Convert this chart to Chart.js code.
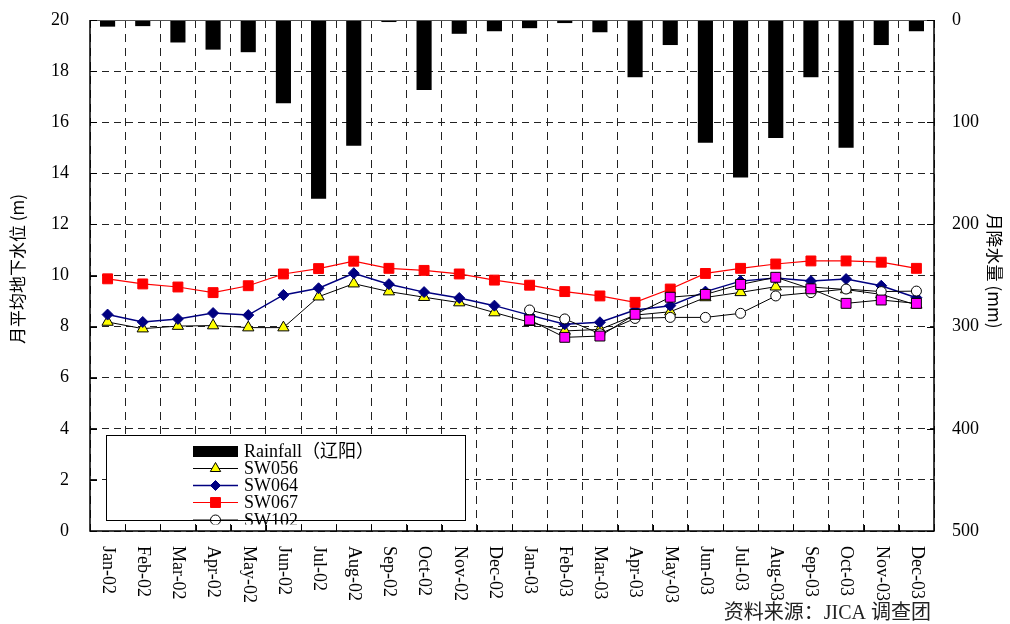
<!DOCTYPE html>
<html>
<head>
<meta charset="utf-8">
<script src="https://cdn.jsdelivr.net/npm/chart.js@4.4.0/dist/chart.umd.min.js"></script>
<style>
  html, body { margin: 0; padding: 0; background: #fff; }
  #wrap { width: 1010px; height: 624px; }
</style>
</head>
<body>
<div id="wrap"><canvas id="c" width="1010" height="624"></canvas></div>
<script>
// Months (category axis)
const months = ['Jan-02','Feb-02','Mar-02','Apr-02','May-02','Jun-02','Jul-02','Aug-02','Sep-02','Oct-02','Nov-02','Dec-02',
                'Jan-03','Feb-03','Mar-03','Apr-03','May-03','Jun-03','Jul-03','Aug-03','Sep-03','Oct-03','Nov-03','Dec-03'];

// Monthly rainfall at Liaoyang (mm), hanging from the top on the reversed right axis
const rainfall = [6.5, 6, 22, 29, 31.5, 81.5, 175, 123, 2, 68.5, 13.5, 11,
                  8, 3, 12, 56, 24.5, 120, 154, 115.5, 56, 125, 24.5, 11];

// Monthly mean groundwater level per well (m)
const sw056 = [8.18, 7.92, 8.02, 8.04, 7.96, 7.96, 9.17, 9.68, 9.37, 9.15, 8.94, 8.55,
               8.17, 7.83, 7.89, 8.45, 8.58, 9.14, 9.34, 9.56, 9.55, 9.45, 9.26, 8.85];
const sw064 = [8.47, 8.18, 8.30, 8.53, 8.45, 9.24, 9.50, 10.09, 9.66, 9.35, 9.12, 8.82,
               8.45, 8.09, 8.17, 8.65, 8.82, 9.37, 9.78, 9.90, 9.78, 9.86, 9.60, 9.13];
const sw067 = [9.87, 9.67, 9.55, 9.33, 9.60, 10.06, 10.27, 10.56, 10.28, 10.20, 10.06, 9.82,
               9.62, 9.37, 9.20, 8.95, 9.47, 10.08, 10.28, 10.45, 10.57, 10.57, 10.52, 10.28];
const sw102 = [null, null, null, null, null, null, null, null, null, null, null, null,
               8.65, 8.30, 7.72, 8.32, 8.36, 8.36, 8.52, 9.20, 9.33, 9.47, 9.37, 9.39];
const swMagenta = [null, null, null, null, null, null, null, null, null, null, null, null,
               8.26, 7.58, 7.63, 8.48, 9.15, 9.26, 9.65, 9.93, 9.48, 8.91, 9.04, 8.91];

// Axis tick values
const levelTicks = [0, 2, 4, 6, 8, 10, 12, 14, 16, 18, 20];
const rainTicks = [0, 100, 200, 300, 400, 500];

// Axis titles and legend text
const leftTitle = '月平均地下水位 (m)';
const rightTitle = '月降水量 (mm)';
const sourceNote = '资料来源：JICA 调查团';
const legendItems = [
  { text: 'Rainfall（辽阳）', kind: 'bar' },
  { text: 'SW056', kind: 'line', line: '#000', lw: 1, style: 'triangle', fill: '#ffff00', stroke: '#000', r: 6 },
  { text: 'SW064', kind: 'line', line: '#000080', lw: 1.5, style: 'rectRot', fill: '#000080', stroke: '#000080', r: 5 },
  { text: 'SW067', kind: 'line', line: '#ff0000', lw: 1.2, style: 'rect', fill: '#ff0000', stroke: '#ff0000', r: 7 },
  { text: 'SW102', kind: 'line', line: '#000', lw: 1, style: 'circle', fill: '#ffffff', stroke: '#000', r: 5 }
];

const SERIF = "'Liberation Serif', 'Noto Sans CJK SC', serif";
const CJK = "'Noto Sans CJK SC', sans-serif";
Chart.defaults.font.family = SERIF;

// Frame, inward tick marks, rotated month labels, axis titles, legend box and source note
const decorations = {
  id: 'decorations',
  afterDatasetsDraw(chart) {
    const ctx = chart.ctx;
    const a = chart.chartArea;
    const x = chart.scales.x, yl = chart.scales.y, yr = chart.scales.y1;
    ctx.save();

    // legend box
    const bx = 106, by = 435, bw = 359, bh = 85;
    ctx.fillStyle = '#fff';
    ctx.fillRect(bx, by, bw, bh);
    ctx.save();
    ctx.beginPath();
    ctx.rect(bx - 2, by, bw + 4, bh + 4.5);
    ctx.clip();
    const rowY = [451.5, 468.5, 485.5, 502.5, 520];
    legendItems.forEach((it, i) => {
      const cy = rowY[i];
      if (it.kind === 'bar') {
        ctx.fillStyle = '#000';
        ctx.fillRect(193, cy - 5.5, 45, 11);
      } else {
        ctx.strokeStyle = it.line;
        ctx.lineWidth = it.lw;
        ctx.beginPath();
        ctx.moveTo(193, cy);
        ctx.lineTo(238, cy);
        ctx.stroke();
        ctx.fillStyle = it.fill;
        ctx.strokeStyle = it.stroke;
        ctx.lineWidth = 1;
        Chart.helpers.drawPoint(ctx, { pointStyle: it.style, radius: it.r, rotation: 0, borderWidth: 1 }, 215.5, cy);
      }
      ctx.fillStyle = '#000';
      ctx.font = '18px ' + SERIF;
      ctx.textAlign = 'left';
      ctx.textBaseline = 'middle';
      ctx.fillText(it.text, 244, cy + 1);
    });
    ctx.restore();
    ctx.strokeStyle = '#000';
    ctx.lineWidth = 1;
    ctx.strokeRect(bx + 0.5, by + 0.5, bw, bh);

    // chart frame
    ctx.strokeStyle = '#000';
    ctx.lineWidth = 1.5;
    ctx.beginPath();
    ctx.moveTo(a.left, a.top);
    ctx.lineTo(a.left, a.bottom);
    ctx.lineTo(a.right, a.bottom);
    ctx.lineTo(a.right, a.top);
    ctx.stroke();
    ctx.strokeStyle = '#555';
    ctx.lineWidth = 1;
    ctx.beginPath();
    ctx.moveTo(a.left, a.top + 0.5);
    ctx.lineTo(a.right, a.top + 0.5);
    ctx.stroke();

    // inward tick marks
    ctx.strokeStyle = '#000';
    ctx.lineWidth = 1;
    ctx.beginPath();
    levelTicks.forEach(v => {
      const py = Math.round(yl.getPixelForValue(v)) + 0.5;
      ctx.moveTo(a.left, py); ctx.lineTo(a.left + 7, py);
    });
    rainTicks.forEach(v => {
      const py = Math.round(yr.getPixelForValue(v)) + 0.5;
      ctx.moveTo(a.right, py); ctx.lineTo(a.right - 7, py);
    });
    const step = (a.right - a.left) / months.length;
    for (let i = 1; i < months.length; i++) {
      const px = Math.round(a.left + i * step) + 0.5;
      ctx.moveTo(px, a.bottom); ctx.lineTo(px, a.bottom - 6);
    }
    ctx.stroke();

    // month labels, reading top to bottom
    ctx.fillStyle = '#000';
    ctx.font = '18px ' + SERIF;
    ctx.textAlign = 'left';
    ctx.textBaseline = 'middle';
    months.forEach((m, i) => {
      const px = x.getPixelForValue(i);
      ctx.save();
      ctx.translate(px, 546);
      ctx.rotate(Math.PI / 2);
      ctx.fillText(m, 0, 0);
      ctx.restore();
    });

    // axis titles
    ctx.font = '17px ' + CJK;
    ctx.textAlign = 'center';
    ctx.save();
    ctx.translate(18, 269);
    ctx.rotate(-Math.PI / 2);
    ctx.fillText(leftTitle, 0, 0);
    ctx.restore();
    ctx.save();
    ctx.translate(994, 271);
    ctx.rotate(Math.PI / 2);
    ctx.fillText(rightTitle, 0, 0);
    ctx.restore();

    // source note
    ctx.font = '20px ' + SERIF;
    ctx.textAlign = 'right';
    ctx.textBaseline = 'alphabetic';
    ctx.fillStyle = '#222';
    ctx.fillText(sourceNote, 931, 619);

    ctx.restore();
  }
};

// keep the vertical axes from reserving room above/below for their end labels
function fixVertical(width) {
  return function (s) {
    s.width = width;
    s.paddingTop = 0;
    s.paddingBottom = 0;
  };
}

new Chart(document.getElementById('c'), {
  type: 'bar',
  data: {
    labels: months,
    datasets: [
      { type: 'line', label: 'SWM', data: swMagenta, yAxisID: 'y', order: 1,
        borderColor: '#000', borderWidth: 1, pointStyle: 'rect', pointRadius: 7,
        pointBackgroundColor: '#ff00ff', pointBorderColor: '#000', pointBorderWidth: 1, spanGaps: false },
      { type: 'line', label: 'SW102', data: sw102, yAxisID: 'y', order: 2,
        borderColor: '#000', borderWidth: 1, pointStyle: 'circle', pointRadius: 5,
        pointBackgroundColor: '#fff', pointBorderColor: '#000', pointBorderWidth: 1 },
      { type: 'line', label: 'SW067', data: sw067, yAxisID: 'y', order: 3,
        borderColor: '#ff0000', borderWidth: 1.2, pointStyle: 'rect', pointRadius: 7,
        pointBackgroundColor: '#ff0000', pointBorderColor: '#ff0000', pointBorderWidth: 1 },
      { type: 'line', label: 'SW064', data: sw064, yAxisID: 'y', order: 4,
        borderColor: '#000080', borderWidth: 1.5, pointStyle: 'rectRot', pointRadius: 5.5,
        pointBackgroundColor: '#000080', pointBorderColor: '#000080', pointBorderWidth: 1 },
      { type: 'line', label: 'SW056', data: sw056, yAxisID: 'y', order: 5,
        borderColor: '#000', borderWidth: 1, pointStyle: 'triangle', pointRadius: 6.5,
        pointBackgroundColor: '#ffff00', pointBorderColor: '#000', pointBorderWidth: 1 },
      { type: 'bar', label: 'Rainfall', data: rainfall, yAxisID: 'y1', order: 10,
        backgroundColor: '#000', borderWidth: 0, barPercentage: 0.43, categoryPercentage: 1 }
    ]
  },
  options: {
    responsive: false,
    animation: false,
    layout: { padding: { top: 20, left: 0, right: 0, bottom: 0 } },
    plugins: { legend: { display: false }, tooltip: { enabled: false } },
    elements: { line: { tension: 0 } },
    scales: {
      x: {
        offset: true,
        grid: { offset: true, color: '#222', lineWidth: 1, drawTicks: false },
        border: { display: false, dash: [8, 6] },
        ticks: { display: false },
        afterFit(s) { s.height = 93; s.paddingLeft = 0; s.paddingRight = 0; }
      },
      y: {
        position: 'left',
        min: 0, max: 20,
        afterBuildTicks(s) { s.ticks = levelTicks.map(v => ({ value: v })); },
        grid: { color: '#222', lineWidth: 1, drawTicks: false },
        border: { display: false, dash: [7, 5] },
        ticks: { color: '#000', font: { family: SERIF, size: 18 }, padding: 21 },
        afterFit: fixVertical(90)
      },
      y1: {
        position: 'right',
        reverse: true,
        min: 0, max: 500,
        afterBuildTicks(s) { s.ticks = rainTicks.map(v => ({ value: v })); },
        grid: { display: false, drawTicks: false },
        border: { display: false },
        ticks: { color: '#000', font: { family: SERIF, size: 18 }, padding: 18 },
        afterFit: fixVertical(76)
      }
    }
  },
  plugins: [decorations]
});
</script>
</body>
</html>
